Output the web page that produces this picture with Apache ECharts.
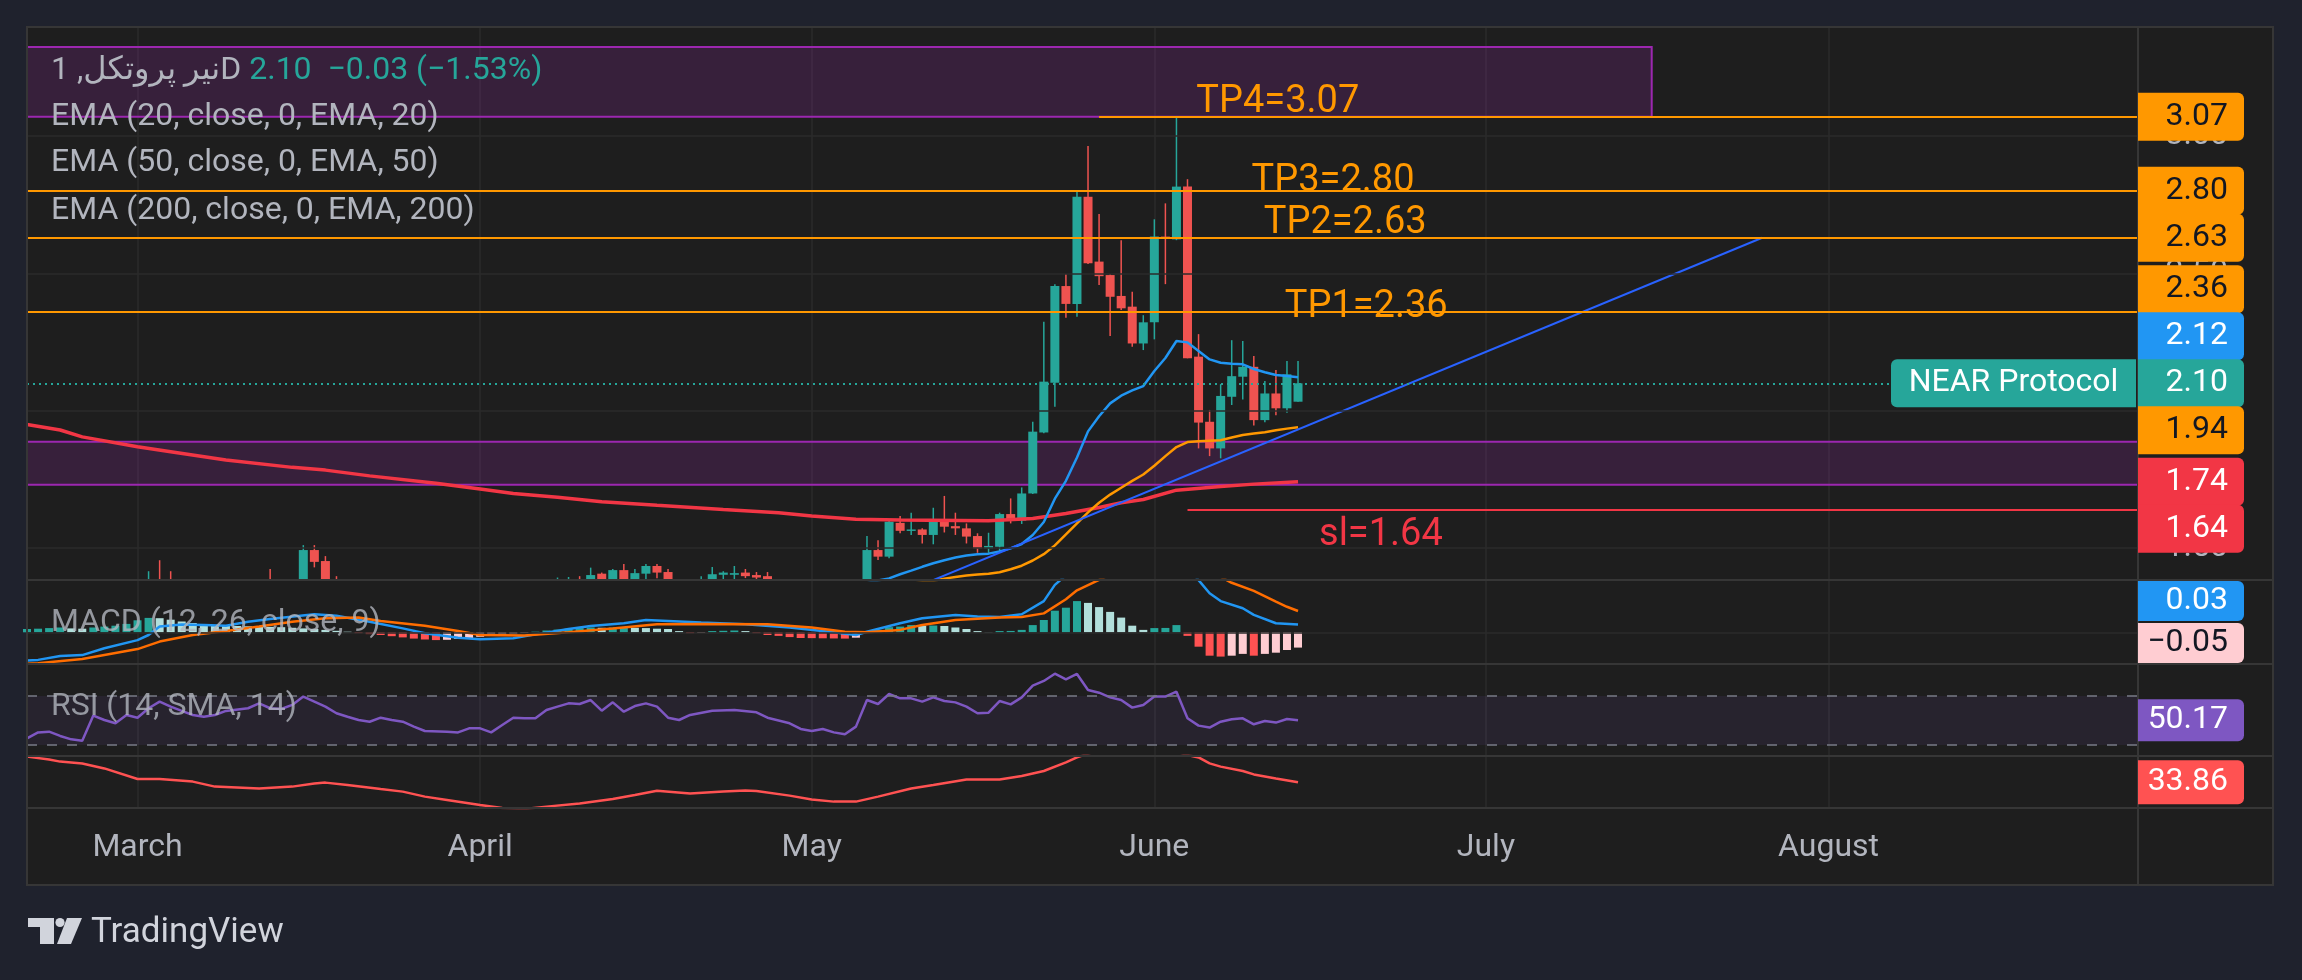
<!DOCTYPE html>
<html>
<head>
<meta charset="utf-8">
<script src="https://cdn.jsdelivr.net/npm/echarts@6/dist/echarts.min.js"></script>
<style>
html,body{margin:0;padding:0;background:#1f222d;}
#c{width:2302px;height:980px;}
</style>
</head>
<body>
<div id="c"></div>
<script>
// ---------------- DATA ----------------
const startDate = '2025-02-19';
const categoryCount = 192;
const monthNames = ['January','February','March','April','May','June','July','August','September','October','November','December'];

const symbolTitle = 'نیر پروتکل, 1D';
const priceTicks = [3.00, 2.50, 2.00, 1.50];

// candles: [open, close, low, high], one per day from startDate
const ohlc = [
[1.27,1.25,1.22,1.30],[1.25,1.23,1.20,1.28],[1.23,1.24,1.19,1.27],[1.24,1.20,1.18,1.26],[1.20,1.18,1.15,1.22],
[1.18,1.17,1.13,1.21],[1.17,1.27,1.16,1.30],[1.27,1.25,1.22,1.29],[1.25,1.23,1.21,1.28],[1.23,1.27,1.22,1.30],
[1.27,1.26,1.23,1.32],[1.26,1.33,1.25,1.416],[1.33,1.31,1.27,1.456],[1.31,1.29,1.25,1.416],[1.29,1.27,1.24,1.33],
[1.27,1.25,1.22,1.30],[1.25,1.26,1.22,1.29],[1.26,1.28,1.24,1.31],[1.28,1.30,1.26,1.33],[1.30,1.31,1.27,1.35],
[1.31,1.32,1.28,1.36],[1.32,1.35,1.30,1.37],[1.35,1.33,1.30,1.424],[1.33,1.34,1.30,1.37],[1.34,1.36,1.32,1.38],
[1.36,1.493,1.35,1.511],[1.493,1.450,1.430,1.511],[1.453,1.36,1.34,1.471],[1.36,1.33,1.30,1.398],[1.33,1.31,1.28,1.35],
[1.31,1.29,1.26,1.33],[1.29,1.30,1.25,1.32],[1.30,1.28,1.25,1.32],[1.28,1.26,1.23,1.30],[1.26,1.24,1.21,1.28],
[1.24,1.20,1.17,1.26],[1.20,1.17,1.14,1.22],[1.17,1.16,1.12,1.19],[1.16,1.15,1.11,1.18],[1.15,1.14,1.10,1.17],
[1.14,1.17,1.12,1.19],[1.17,1.17,1.14,1.20],[1.17,1.14,1.11,1.19],[1.14,1.18,1.13,1.20],[1.18,1.23,1.17,1.25],
[1.23,1.23,1.20,1.26],[1.23,1.24,1.21,1.27],[1.24,1.30,1.23,1.32],[1.30,1.34,1.28,1.393],[1.34,1.37,1.32,1.395],
[1.37,1.36,1.33,1.398],[1.36,1.402,1.35,1.429],[1.407,1.37,1.35,1.411],[1.37,1.420,1.36,1.424],[1.420,1.38,1.36,1.442],
[1.38,1.409,1.37,1.424],[1.407,1.435,1.387,1.442],[1.435,1.411,1.39,1.442],[1.413,1.37,1.35,1.424],[1.37,1.36,1.33,1.385],
[1.36,1.35,1.32,1.38],[1.35,1.37,1.33,1.398],[1.37,1.405,1.36,1.431],[1.403,1.411,1.37,1.416],[1.403,1.409,1.38,1.435],
[1.411,1.398,1.391,1.424],[1.402,1.393,1.37,1.413],[1.398,1.36,1.34,1.413],[1.36,1.34,1.32,1.37],[1.34,1.32,1.30,1.36],
[1.32,1.31,1.28,1.34],[1.31,1.32,1.29,1.35],[1.32,1.30,1.28,1.34],[1.30,1.28,1.26,1.32],[1.28,1.27,1.25,1.30],
[1.27,1.33,1.26,1.35],[1.33,1.493,1.32,1.544],[1.493,1.469,1.457,1.529],[1.469,1.596,1.463,1.602],[1.592,1.563,1.554,1.617],
[1.563,1.568,1.548,1.629],[1.568,1.548,1.517,1.572],[1.548,1.602,1.514,1.647],[1.602,1.578,1.557,1.690],[1.580,1.572,1.548,1.629],
[1.572,1.542,1.517,1.590],[1.544,1.499,1.483,1.554],[1.499,1.508,1.483,1.556],[1.505,1.624,1.487,1.629],[1.624,1.600,1.590,1.681],
[1.600,1.699,1.588,1.721],[1.699,1.924,1.697,1.960],[1.921,2.106,1.918,2.324],[2.102,2.454,2.015,2.461],[2.454,2.389,2.339,2.498],
[2.389,2.779,2.342,2.803],[2.779,2.537,2.534,2.964],[2.543,2.490,2.458,2.716],[2.494,2.415,2.272,2.498],[2.418,2.373,2.367,2.621],
[2.379,2.245,2.233,2.433],[2.245,2.322,2.221,2.348],[2.322,2.634,2.260,2.697],[2.634,2.629,2.461,2.755],[2.624,2.816,2.621,3.067],
[2.816,2.191,2.191,2.843],[2.197,1.957,1.863,2.279],[1.960,1.863,1.835,2.003],[1.863,2.054,1.827,2.097],[2.051,2.126,2.021,2.257],
[2.124,2.160,2.041,2.254],[2.160,1.966,1.946,2.199],[1.966,2.063,1.958,2.108],[2.063,2.009,1.984,2.148],[2.009,2.1326,1.993,2.181],
[2.033,2.10,2.033,2.181]
];

// moving averages: [dayIndex, value]
const ema20 = [[66,1.335],[70,1.345],[73,1.352],[76,1.372],[77,1.382],[78,1.39],[79,1.405],[80,1.418],[81,1.432],[82,1.445],[83,1.456],[84,1.466],[85,1.473],[86,1.478],[87,1.480],[88,1.488],[89,1.499],[90,1.515],[91,1.548],[92,1.595],[93,1.68],[94,1.745],[95,1.83],[96,1.925],[97,1.98],[98,2.027],[99,2.055],[100,2.074],[101,2.090],[102,2.145],[103,2.192],[104,2.254],[105,2.249],[106,2.218],[107,2.187],[108,2.175],[109,2.171],[110,2.169],[111,2.152],[112,2.140],[113,2.130],[114,2.127],[115,2.122]];
const ema50 = [[70,1.335],[76,1.352],[80,1.37],[82,1.381],[83,1.389],[84,1.395],[85,1.400],[86,1.404],[87,1.407],[88,1.412],[89,1.423],[90,1.436],[91,1.455],[92,1.478],[93,1.510],[94,1.550],[95,1.590],[96,1.630],[97,1.665],[98,1.695],[99,1.720],[100,1.745],[101,1.768],[102,1.800],[103,1.835],[104,1.868],[105,1.886],[106,1.889],[107,1.891],[108,1.893],[109,1.903],[110,1.912],[111,1.917],[112,1.922],[113,1.929],[114,1.935],[115,1.940]];
const ema200 = [[0,1.95],[3,1.930],[5,1.905],[10,1.869],[13,1.851],[18,1.821],[24,1.794],[27,1.784],[31,1.763],[37,1.736],[41,1.715],[44,1.699],[48,1.685],[52,1.669],[57,1.656],[63,1.641],[68,1.629],[71,1.617],[75,1.605],[79,1.602],[87,1.600],[91,1.608],[94,1.626],[97,1.648],[99,1.665],[101,1.677],[104,1.711],[108,1.724],[111,1.733],[115,1.742]];
const trendLine = [[76,1.284],[157,2.63]];

// drawings
const tpNames = ['TP4','TP3','TP2','TP1'];
const tpValues = [3.07, 2.80, 2.63, 2.36];
const tpStartDay = [97, 0, 0, 0];
const slValue = 1.64;
const slStartDay = 105;
const zoneBands = [[1.887, 1.731], [3.324, 3.07]];
const zoneEndDay = [191, 147];

// MACD (12, 26, close, 9)
const macdLine = [[0,-0.094],[1,-0.092],[3,-0.079],[5,-0.076],[7,-0.053],[10,-0.026],[11,-0.009],[12,0.019],[14,0.026],[16,0.024],[18,0.022],[20,0.035],[22,0.044],[26,0.060],[28,0.055],[31,0.035],[34,0.013],[36,-0.003],[39,-0.018],[41,-0.023],[44,-0.020],[46,-0.007],[49,0.011],[51,0.021],[54,0.030],[56,0.041],[58,0.038],[61,0.033],[65,0.027],[69,0.016],[73,0.000],[75,-0.009],[76,0.002],[79,0.030],[81,0.047],[84,0.058],[86,0.053],[88,0.051],[90,0.060],[92,0.104],[93,0.158],[94,0.19],[95,0.23],[96,0.26],[98,0.27],[100,0.255],[102,0.25],[104,0.26],[105,0.218],[106,0.174],[107,0.13],[108,0.104],[110,0.080],[111,0.058],[113,0.030],[115,0.026]];
const signalLine = [[0,-0.105],[1,-0.103],[5,-0.089],[10,-0.056],[12,-0.031],[15,-0.009],[18,0.004],[21,0.019],[24,0.035],[27,0.047],[30,0.049],[32,0.038],[36,0.022],[39,0.004],[41,-0.009],[45,-0.011],[49,0.000],[53,0.013],[57,0.027],[61,0.028],[67,0.027],[71,0.016],[74,0.002],[76,0.000],[79,0.008],[81,0.024],[84,0.041],[88,0.049],[90,0.051],[92,0.063],[94,0.11],[95,0.14],[97,0.175],[99,0.21],[101,0.235],[103,0.243],[105,0.23],[107,0.205],[108,0.185],[109,0.165],[111,0.138],[113,0.102],[114,0.085],[115,0.071]];
const macdHist = [
0.011,0.012,0.014,0.016,0.013,0.012,0.016,0.019,0.022,0.028,
0.040,0.048,0.047,0.042,0.036,0.031,0.027,0.024,0.022,0.021,
0.020,0.019,0.018,0.017,0.015,0.013,0.011,0.008,0.005,0.002,
-0.003,-0.006,-0.009,-0.013,-0.017,-0.021,-0.024,-0.026,-0.025,-0.022,
-0.019,-0.015,-0.012,-0.008,-0.005,-0.002,0.002,0.006,0.009,0.012,
0.014,0.016,0.015,0.016,0.017,0.015,0.014,0.012,0.011,0.004,
-0.003,-0.002,0.004,0.005,0.006,0.004,-0.003,-0.009,-0.012,-0.016,
-0.019,-0.0195,-0.020,-0.0205,-0.021,-0.018,0.003,0.008,0.017,0.019,
0.024,0.022,0.0225,0.021,0.016,0.011,0.004,0.001,0.004,0.0045,
0.008,0.024,0.041,0.072,0.082,0.104,0.098,0.084,0.068,0.049,
0.022,0.008,0.014,0.0145,0.024,-0.012,-0.048,-0.078,-0.081,-0.078,
-0.072,-0.078,-0.072,-0.068,-0.059,-0.051
];

// RSI (14, SMA, 14)
const rsi = [[0,35.4],[1,40.3],[2,40.9],[3,37.4],[4,34.6],[5,33.5],[6,54.0],[7,50.4],[8,47.7],[9,54.5],[10,52.3],[11,60.0],[12,65.4],[13,61.3],[14,57.8],[15,54.5],[16,53.1],[17,54.5],[18,57.8],[20,60.0],[21,64.0],[22,60.0],[23,59.4],[24,62.7],[25,69.5],[26,65.4],[27,61.3],[28,55.9],[29,53.1],[30,50.4],[31,49.0],[32,52.3],[33,50.4],[34,49.0],[35,45.0],[36,41.4],[38,40.9],[39,40.3],[40,43.6],[41,43.6],[42,40.3],[43,46.3],[44,52.3],[45,51.8],[46,51.8],[47,58.6],[48,61.3],[49,64.0],[50,63.5],[51,66.7],[52,58.0],[53,64.8],[54,57.2],[55,61.8],[56,64.0],[57,61.3],[58,52.3],[59,50.4],[60,54.5],[62,58.0],[64,58.6],[66,56.7],[67,52.3],[69,47.7],[70,43.1],[71,41.4],[72,43.1],[73,40.3],[74,38.7],[75,45.0],[76,66.7],[77,63.5],[78,71.6],[79,68.1],[80,68.1],[81,65.4],[82,68.9],[83,65.9],[84,64.8],[85,61.3],[86,55.9],[87,56.4],[88,65.9],[89,63.2],[90,68.9],[91,78.4],[92,82.3],[93,88.2],[94,83.6],[95,88.0],[96,74.9],[97,72.7],[98,68.9],[99,66.7],[100,60.5],[101,62.7],[102,69.5],[103,69.5],[104,73.5],[105,51.8],[106,45.8],[107,44.2],[108,49.0],[109,51.0],[110,51.8],[111,46.9],[112,49.6],[113,48.3],[114,51.2],[115,50.17]];
const rsiBands = [70, 30];

// lower pane red line
const lowerLine = [[0,46.7],[2,45.3],[3,44.2],[5,43.3],[7,40.8],[10,35.5],[12,35.5],[15,34.2],[17,31.7],[21,30.8],[24,31.7],[26,33.3],[27,33.7],[29,32.5],[32,30.5],[34,29.2],[36,26.7],[38,25.0],[41,22.5],[43,21.0],[45,20.5],[47,21.7],[50,23.3],[53,25.5],[55,27.5],[57,29.6],[60,28.3],[63,29.2],[65,29.7],[66,29.5],[69,27.2],[71,25.3],[73,24.2],[75,24.2],[77,26.7],[80,30.8],[82,32.5],[85,35.3],[88,35.3],[90,37.0],[92,39.5],[94,43.8],[95,46.3],[97,50.0],[100,53.0],[103,51.0],[105,47.5],[106,46.3],[107,43.3],[108,41.7],[110,39.5],[111,37.8],[113,35.8],[115,33.86]];

// ---------------- LAYOUT / STYLE ----------------
const FONT = 'Roboto, "DejaVu Sans", "Noto Sans", sans-serif';
const W = 2302;
const PANE_L = 27, PANE_R = 2138, FRAME_R = 2273, FRAME_T = 27, FRAME_B = 885;
const paneTops = [27, 580, 664, 756], paneBottoms = [580, 664, 756, 808];
const CANDLE_W = 9;
const C = {
  up:'#26a69a', down:'#ef5350', grid:'#2b2b2b', sep:'#363636', text:'#b2b5be',
  orange:'#ff9800', blue:'#2196f3', red:'#f23645', purple:'#9c27b0', trend:'#2962ff',
  macdSig:'#ff6d00', rsi:'#7e57c2', lower:'#ff5252'
};

const dates = [];
(function(){
  const p = startDate.split('-').map(Number);
  const t0 = Date.UTC(p[0], p[1]-1, p[2]);
  for (let i = 0; i < categoryCount; i++) dates.push(new Date(t0 + i*86400000).toISOString().slice(0,10));
})();
const last = dates.length - 1;
const pairs = arr => arr.map(d => [dates[d[0]], d[1]]);
const isMonthStart = (i, v) => String(v).slice(8) === '01';
const noLine = {symbol:'none', showSymbol:false, silent:true, clip:true, emphasis:{disabled:true}};

const histColors = macdHist.map((v, i) => {
  const p = i > 0 ? macdHist[i-1] : v;
  if (v >= 0) return v >= p ? '#26a69a' : '#b2dfdb';
  return v <= p ? '#ff5252' : '#ffcdd2';
});

// candles drawn through the axes, clipped to the price pane
function renderCandle(params, api) {
  const i = api.value(0);
  const o = api.value(1), c = api.value(2), l = api.value(3), h = api.value(4);
  const x = api.coord([i, o])[0];
  const yO = api.coord([i, o])[1], yC = api.coord([i, c])[1];
  const yL = api.coord([i, l])[1], yH = api.coord([i, h])[1];
  const cs = params.coordSys;
  const top = cs.y, bot = cs.y + cs.height;
  const col = c >= o ? C.up : C.down;
  const children = [];
  const w1 = Math.max(top, yH), w2 = Math.min(bot, yL);
  if (w2 > w1) children.push({type:'rect', shape:{x:x-0.75, y:w1, width:1.5, height:w2-w1}, style:{fill:col}});
  const body = echarts.graphic.clipRectByRect({x:x-CANDLE_W/2, y:Math.min(yO, yC), width:CANDLE_W, height:Math.max(Math.abs(yO-yC), 1.5)},
    {x:cs.x, y:cs.y, width:cs.width, height:cs.height});
  if (body && body.height > 0) children.push({type:'rect', shape:body, style:{fill:col}});
  return {type:'group', children};
}

const option = {
  backgroundColor: '#1f222d',
  animation: false,
  grid: paneTops.map((t, k) => ({left: PANE_L, right: W - PANE_R, top: t, height: paneBottoms[k] - t})),
  xAxis: [0,1,2,3].map(g => ({
    type:'category', gridIndex:g, data:dates, boundaryGap:false,
    axisLine:{show:false}, axisTick:{show:false},
    axisLabel: g === 3 ? {show:true, interval:isMonthStart, formatter: v => monthNames[+v.slice(5,7)-1],
      color:C.text, fontSize:32, fontFamily:FONT, margin:24} : {show:false},
    splitLine:{show:true, interval:isMonthStart, lineStyle:{color:C.grid, width:1.5}}
  })),
  yAxis: [
    {gridIndex:0, min:1.384, max:3.397},
    {gridIndex:1, min:-0.1057, max:0.1743},
    {gridIndex:2, min:21.02, max:96.12},
    {gridIndex:3, min:21.01, max:47.01}
  ].map(a => Object.assign(a, {type:'value', position:'right', axisLine:{show:false}, axisTick:{show:false}, axisLabel:{show:false}, splitLine:{show:false}})),
  series: [
    Object.assign({type:'line', name:'gridlines', xAxisIndex:0, yAxisIndex:0, data:[], z:1,
      markLine:{symbol:['none','none'], silent:true, animation:false, label:{show:false},
        lineStyle:{color:C.grid, width:1.5, type:'solid'}, data: priceTicks.map(v => ({yAxis:v}))}}, noLine),
    Object.assign({type:'line', name:'zones', xAxisIndex:0, yAxisIndex:0, data:[], z:1,
      markArea:{silent:true, animation:false, itemStyle:{color:'rgba(156,39,176,0.2)', borderColor:C.purple, borderWidth:2},
        data: zoneBands.map((b, k) => [{coord:[dates[0], b[0]]}, {coord:[dates[zoneEndDay[k]], b[1]]}])}}, noLine),
    {type:'custom', name:'NEAR', xAxisIndex:0, yAxisIndex:0, z:2, silent:true,
      data: ohlc.map((d, i) => [dates[i], d[0], d[1], d[2], d[3]]),
      encode:{x:0, y:[1,2,3,4]}, renderItem: renderCandle},
    Object.assign({type:'line', name:'EMA200', xAxisIndex:0, yAxisIndex:0, data:pairs(ema200), z:3, lineStyle:{color:C.red, width:3.5}}, noLine),
    Object.assign({type:'line', name:'EMA50', xAxisIndex:0, yAxisIndex:0, data:pairs(ema50), z:3, lineStyle:{color:C.orange, width:2.5}}, noLine),
    Object.assign({type:'line', name:'EMA20', xAxisIndex:0, yAxisIndex:0, data:pairs(ema20), z:3, lineStyle:{color:C.blue, width:2.5}}, noLine),
    Object.assign({type:'line', name:'trend', xAxisIndex:0, yAxisIndex:0, data:pairs(trendLine), z:4, lineStyle:{color:C.trend, width:2}}, noLine),
    Object.assign({type:'line', name:'levels', xAxisIndex:0, yAxisIndex:0, data:[], z:5,
      markLine:{symbol:['none','none'], silent:true, animation:false, label:{show:false},
        data: tpValues.map((v, k) => [{coord:[dates[tpStartDay[k]], v], lineStyle:{color:C.orange, width:2, type:'solid'}}, {coord:[dates[last], v]}])
          .concat([[{coord:[dates[slStartDay], slValue], lineStyle:{color:C.red, width:2, type:'solid'}}, {coord:[dates[last], slValue]}]])
          .concat([{yAxis: ohlc[ohlc.length-1][1], lineStyle:{color:C.up, width:2, type:[2,4]}}])}}, noLine),
    // MACD pane
    {type:'bar', name:'hist', xAxisIndex:1, yAxisIndex:1, barWidth:8, silent:true, z:2, clip:true,
      data: macdHist.map((v, i) => ({value:v, itemStyle:{color:histColors[i]}}))},
    Object.assign({type:'line', name:'macd', xAxisIndex:1, yAxisIndex:1, data:pairs(macdLine), z:3, lineStyle:{color:C.blue, width:2.5},
      markLine:{symbol:['none','none'], silent:true, animation:false, label:{show:false}, lineStyle:{color:C.grid, width:1.5, type:'solid'}, data:[{yAxis:0}]}}, noLine),
    Object.assign({type:'line', name:'signal', xAxisIndex:1, yAxisIndex:1, data:pairs(signalLine), z:3, lineStyle:{color:C.macdSig, width:2.5}}, noLine),
    // RSI pane
    Object.assign({type:'line', name:'rsi', xAxisIndex:2, yAxisIndex:2, data:pairs(rsi), z:3, lineStyle:{color:C.rsi, width:2.5},
      markLine:{symbol:['none','none'], silent:true, animation:false, label:{show:false}, lineStyle:{color:'#787b86', width:1.5, type:[10,10]},
        data: rsiBands.map(v => ({yAxis:v}))},
      markArea:{silent:true, animation:false, itemStyle:{color:'rgba(126,87,194,0.1)'}, data:[[{yAxis:rsiBands[0]}, {yAxis:rsiBands[1]}]]}}, noLine),
    // lower pane
    Object.assign({type:'line', name:'lower', xAxisIndex:3, yAxisIndex:3, data:pairs(lowerLine), z:3, lineStyle:{color:C.lower, width:2.5}}, noLine)
  ]
};

const chart = echarts.init(document.getElementById('c'), null, {renderer:'canvas', width:2302, height:980});
chart.setOption(option);

// ---------------- OVERLAYS (positions from the chart's own scales) ----------------
const py = (g, v) => chart.convertToPixel({yAxisIndex:g}, v);
const pxDay = d => {
  const i = Math.floor(d), f = d - i;
  const a = chart.convertToPixel({xAxisIndex:0}, dates[i]);
  const b = chart.convertToPixel({xAxisIndex:0}, dates[Math.min(i+1, last)]);
  return a + (b - a) * f;
};
const fmt = v => v.toFixed(2).replace('-', '\u2212');
const G = [];
// pane background and frame
G.push({type:'rect', z:-100, silent:true, shape:{x:PANE_L, y:FRAME_T, width:FRAME_R-PANE_L, height:FRAME_B-FRAME_T}, style:{fill:'#1e1e1e'}});
G.push({type:'rect', z:50, silent:true, shape:{x:PANE_L, y:FRAME_T, width:FRAME_R-PANE_L, height:FRAME_B-FRAME_T}, style:{fill:null, stroke:C.sep, lineWidth:2}});
G.push({type:'line', z:50, silent:true, shape:{x1:PANE_R, y1:FRAME_T, x2:PANE_R, y2:FRAME_B}, style:{stroke:C.sep, lineWidth:2}});
paneBottoms.forEach(y => G.push({type:'line', z:50, silent:true, shape:{x1:PANE_L, y1:y, x2:FRAME_R, y2:y}, style:{stroke:C.sep, lineWidth:2}}));

// price axis tick labels
priceTicks.forEach(v => G.push({type:'text', z:60, silent:true, x:2228, y:py(0, v),
  style:{text:v.toFixed(2), fill:C.text, fontSize:32, fontFamily:FONT, align:'right', verticalAlign:'middle'}}));

// value labels on the price axis with overlap stacking
function stackLabels(items, fixedIndex, H, lo, hi) {
  const order = items.map((it, i) => i).sort((a, b) => items[a].y - items[b].y);
  const pos = new Array(items.length);
  const f = order.indexOf(fixedIndex);
  pos[order[f]] = Math.max(lo, Math.min(hi, items[order[f]].y));
  for (let k = f - 1; k >= 0; k--) pos[order[k]] = Math.min(items[order[k]].y, pos[order[k+1]] - H);
  for (let k = f + 1; k < order.length; k++) pos[order[k]] = Math.max(items[order[k]].y, pos[order[k-1]] + H);
  return pos;
}
function drawLabels(items, pos, h) {
  items.forEach((it, i) => {
    G.push({type:'rect', z:70, silent:true, shape:{x:PANE_R, y:pos[i]-h/2, width:106, height:h, r:[0,6,6,0]}, style:{fill:it.bg}});
    G.push({type:'text', z:71, silent:true, x:2228, y:pos[i], style:{text:fmt(it.v), fill:it.fg, fontSize:32, fontFamily:FONT, align:'right', verticalAlign:'middle'}});
  });
}
const lastClose = ohlc[ohlc.length-1][1];
const prevClose = ohlc[ohlc.length-2][1];
const mainItems = tpValues.map(v => ({v, bg:C.orange, fg:'#131722'})).concat([
  {v: ema20[ema20.length-1][1], bg:C.blue, fg:'#ffffff'},
  {v: lastClose, bg:C.up, fg:'#ffffff'},
  {v: ema50[ema50.length-1][1], bg:C.orange, fg:'#131722'},
  {v: ema200[ema200.length-1][1], bg:C.red, fg:'#ffffff'},
  {v: slValue, bg:C.red, fg:'#ffffff'}
]);
mainItems.forEach(it => it.y = py(0, it.v));
const curIdx = tpValues.length + 1;
const mainPos = stackLabels(mainItems, curIdx, 47, paneTops[0]+24, paneBottoms[0]-24);
drawLabels(mainItems, mainPos, 48);
// NEAR Protocol tag
G.push({type:'rect', z:70, silent:true, shape:{x:1891, y:mainPos[curIdx]-24, width:PANE_R-2-1891, height:48, r:[6,0,0,6]}, style:{fill:C.up}});
G.push({type:'text', z:71, silent:true, x:(1891+PANE_R-2)/2, y:mainPos[curIdx], style:{text:'NEAR Protocol', fill:'#ffffff', fontSize:32, fontFamily:FONT, align:'center', verticalAlign:'middle'}});

// MACD labels
const macdItems = [
  {v: macdLine[macdLine.length-1][1], bg:C.blue, fg:'#ffffff'},
  {v: macdHist[macdHist.length-1], bg:'#ffcdd2', fg:'#131722'}
];
macdItems.forEach(it => it.y = py(1, it.v));
drawLabels(macdItems, stackLabels(macdItems, 1, 42, paneTops[1]+21, paneBottoms[1]-21), 40);
const rsiItems = [{v: rsi[rsi.length-1][1], bg:C.rsi, fg:'#ffffff'}];
rsiItems.forEach(it => it.y = py(2, it.v));
drawLabels(rsiItems, stackLabels(rsiItems, 0, 42, paneTops[2]+21, paneBottoms[2]-21), 42);
const lowItems = [{v: lowerLine[lowerLine.length-1][1], bg:C.lower, fg:'#ffffff'}];
lowItems.forEach(it => it.y = py(3, it.v));
drawLabels(lowItems, stackLabels(lowItems, 0, 42, paneTops[3]+21, paneBottoms[3]-21), 44);

// drawing texts (TP / sl)
const tpTextAt = [[105.8,-14], [110.8,-10], [111.9,-14], [113.8,-4.5]];
tpNames.forEach((n, k) => G.push({type:'text', z:80, silent:true, x:pxDay(tpTextAt[k][0]), y:py(0, tpValues[k]) + tpTextAt[k][1],
  style:{text:n + '=' + tpValues[k].toFixed(2), fill:C.orange, fontSize:38, fontFamily:FONT, verticalAlign:'middle'}}));
const slTextAt = [116.9, 26];
G.push({type:'text', z:80, silent:true, x:pxDay(slTextAt[0]), y:py(0, slValue) + slTextAt[1],
  style:{text:'sl=' + slValue.toFixed(2), fill:C.red, fontSize:38, fontFamily:FONT, verticalAlign:'middle'}});

// legends
const chg = lastClose - prevClose, pct = chg / prevClose * 100;
G.push({type:'text', z:80, silent:true, x:51, y:71, style:{
  text:'{a|' + symbolTitle + '}{b|' + fmt(lastClose) + '  ' + fmt(chg) + ' (' + fmt(pct) + '%)}',
  verticalAlign:'middle',
  rich:{a:{fill:C.text, fontSize:32, fontFamily:FONT}, b:{fill:C.up, fontSize:32, fontFamily:FONT, padding:[0,0,0,8]}}}});
const legendLines = ['EMA (20, close, 0, EMA, 20)', 'EMA (50, close, 0, EMA, 50)', 'EMA (200, close, 0, EMA, 200)'];
const legendY = [117, 163, 211];
legendLines.forEach((t, k) => G.push({type:'text', z:80, silent:true, x:51, y:legendY[k], style:{text:t, fill:C.text, fontSize:32, fontFamily:FONT, verticalAlign:'middle'}}));
G.push({type:'text', z:80, silent:true, x:51, y:623, style:{text:'MACD (12, 26, close, 9)', fill:'rgba(178,181,190,0.8)', fontSize:32, fontFamily:FONT, verticalAlign:'middle'}});
G.push({type:'text', z:80, silent:true, x:51, y:707, style:{text:'RSI (14, SMA, 14)', fill:'rgba(178,181,190,0.8)', fontSize:32, fontFamily:FONT, verticalAlign:'middle'}});

// TradingView logo
const logoC = '#d1d4dc';
G.push({type:'rect', z:80, silent:true, shape:{x:28, y:918, width:26, height:9}, style:{fill:logoC}});
G.push({type:'rect', z:80, silent:true, shape:{x:40, y:918, width:14, height:26}, style:{fill:logoC}});
G.push({type:'circle', z:80, silent:true, shape:{cx:60, cy:922.5, r:4.6}, style:{fill:logoC}});
G.push({type:'polygon', z:80, silent:true, shape:{points:[[67,918],[82,918],[71,944],[57,944]]}, style:{fill:logoC}});
G.push({type:'text', z:80, silent:true, x:91, y:933, style:{text:'TradingView', fill:logoC, fontSize:35, fontFamily:FONT, verticalAlign:'middle'}});

chart.setOption({graphic:{elements:G}});
</script>
</body>
</html>
